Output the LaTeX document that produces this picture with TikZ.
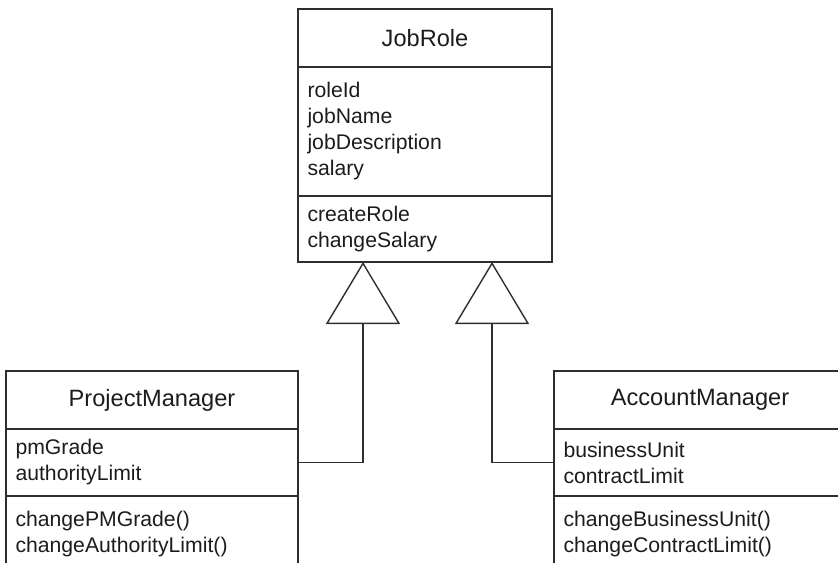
\documentclass[tikz,border=0pt]{standalone}
\usepackage{fontspec}
\setmainfont{Liberation Sans}
\usetikzlibrary{positioning,arrows.meta}
\definecolor{linegray}{HTML}{2E2E2E}
\definecolor{textgray}{HTML}{1C1C1C}
\tikzset{
	classbox/.style={draw=linegray, line width=0.7pt, outer sep=0pt, inner xsep=4.75pt, inner ysep=2pt, text=textgray},
	classname/.style={classbox, align=center, font=\fontsize{11.8}{14}\selectfont}, % top part with the class name
	classpart/.style={classbox, align=left, font=\fontsize{10.6}{13}\selectfont}
}

\begin{document}
\begin{tikzpicture}[x=0.5pt, y=-0.5pt,
            inherits/.style={draw=linegray, line width=0.7pt, -{Triangle[open, length=31pt, width=37pt]}}
        ]
            \useasboundingbox (0,0) rectangle (838,562);
            \clip (0,0) rectangle (838,562);
            % superclass
            \node[classname, minimum width=127pt, minimum height=29pt, anchor=north west] (jobrole) at (298,9) {JobRole};
            \node[classpart, text width=117.5pt, minimum height=64.5pt, below=0pt of jobrole] (jrattr) {roleId\\jobName\\jobDescription\\salary};
            \node[classpart, text width=117.5pt, minimum height=33pt, below=0pt of jrattr] (jrmeth) {createRole\\changeSalary};
            % subclasses
            \node[classname, minimum width=146pt, minimum height=29pt, anchor=north west] (pm) at (6,371) {ProjectManager};
            \node[classpart, text width=136.5pt, minimum height=33.5pt, below=0pt of pm] (pmattr) {pmGrade\\authorityLimit};
            \node[classpart, text width=136.5pt, minimum height=38pt, below=0pt of pmattr] (pmmeth) {changePMGrade()\\changeAuthorityLimit()};
            \node[classname, minimum width=146pt, minimum height=29pt, anchor=north west] (am) at (554,371) {AccountManager};
            \node[classpart, text width=136.5pt, minimum height=33.5pt, below=0pt of am] (amattr) {businessUnit\\contractLimit};
            \node[classpart, text width=136.5pt, minimum height=38pt, below=0pt of amattr] (ammeth) {changeBusinessUnit()\\changeContractLimit()};
            \coordinate (pmtip) at (363,262);
            \coordinate (amtip) at (492,262);
            \draw[inherits] (pmattr.east) -| (pmtip);
            \draw[inherits] (amattr.west) -| (amtip);
        \end{tikzpicture}
\end{document}
